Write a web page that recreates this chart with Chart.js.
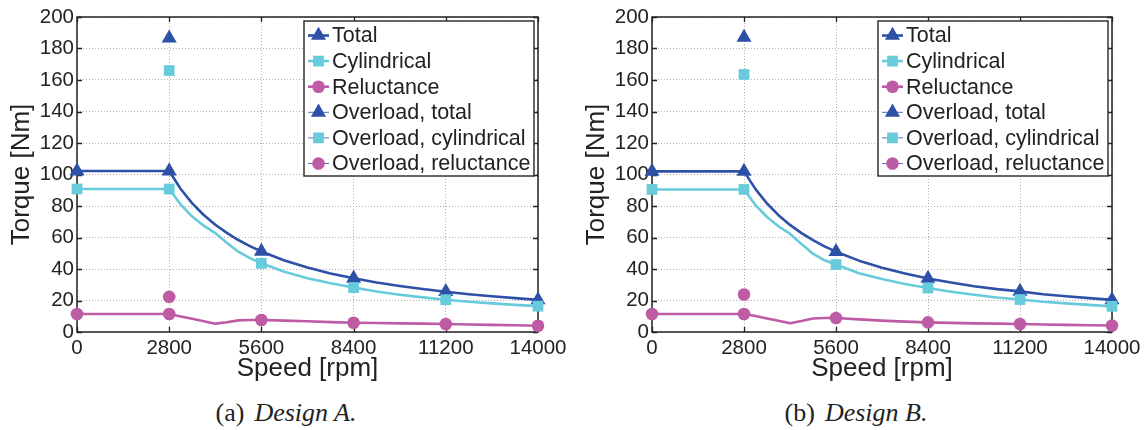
<!DOCTYPE html>
<html>
<head>
<meta charset="utf-8">
<script src="https://cdn.jsdelivr.net/npm/chart.js@4.4.1/dist/chart.umd.min.js"></script>
<style>
  html, body { margin: 0; padding: 0; background: #fff; }
  #wrap { position: relative; width: 1148px; height: 430px; overflow: hidden; }
  canvas { position: absolute; top: 0; }
  #chartA { left: 0; }
  #chartB { left: 575px; }
  .cap {
    position: absolute; top: 400px; line-height: 26px;
    font-family: 'Liberation Serif', 'Times New Roman', serif;
    font-size: 26px; color: #222; white-space: nowrap;
    transform: translateX(-50%);
  }
  .cap i { margin-left: 10px; }
</style>
</head>
<body>
<div id="wrap">
  <canvas id="chartA" width="574" height="385"></canvas>
  <canvas id="chartB" width="573" height="385"></canvas>
  <div class="cap" style="left:286px">(a)<i>Design A.</i></div>
  <div class="cap" style="left:856px">(b)<i>Design B.</i></div>
</div>
<script>
// Speed axis ticks and the operating points that carry markers [rpm]
const speedTicks = [0, 2800, 5600, 8400, 11200, 14000];
// Sample speeds of the torque-speed envelopes [rpm]
const curveSpeed = [0, 700, 1400, 2100, 2800, 3150, 3500, 3850, 4200, 4550, 4900, 5250,
                    5600, 6300, 7000, 7700, 8400, 9100, 9800, 10500, 11200, 11900, 12600, 13300, 14000];
const overloadSpeed = 2800;

// Design A torque [Nm]
const totalA = [102.2, 102.2, 102.2, 102.2, 102.2, 90.8, 81.7, 74.3, 68.1, 62.9, 58.4, 54.5,
                51.1, 45.4, 40.9, 37.2, 34.1, 31.4, 29.2, 27.3, 25.6, 24.0, 22.7, 21.5, 20.4];
const cylA   = [90.8, 90.8, 90.8, 90.8, 90.8, 80.9, 73.3, 67.5, 62.8, 56.7, 51.0, 46.9,
                43.6, 38.2, 34.1, 30.9, 28.2, 25.7, 23.7, 22.0, 20.5, 19.2, 18.2, 17.2, 16.4];
const relA   = [11.4, 11.4, 11.4, 11.4, 11.4, 9.9, 8.4, 6.8, 5.3, 6.2, 7.4, 7.6,
                7.6, 7.2, 6.8, 6.3, 5.9, 5.7, 5.5, 5.3, 5.1, 4.8, 4.5, 4.3, 4.0];
const overloadA = { total: 186.5, cyl: 166, rel: 22.3 };

// Design B torque [Nm]
const totalB = [102.0, 102.0, 102.0, 102.0, 102.0, 90.7, 81.6, 74.2, 68.0, 62.8, 58.3, 54.4,
                51.0, 45.3, 40.8, 37.1, 34.0, 31.4, 29.1, 27.2, 25.8, 24.0, 22.7, 21.5, 20.4];
const cylB   = [90.5, 90.5, 90.5, 90.5, 90.5, 80.6, 73.0, 67.1, 62.4, 55.8, 49.7, 45.5,
                42.8, 37.3, 33.6, 30.5, 27.9, 25.6, 23.6, 21.9, 20.6, 19.2, 18.2, 17.2, 16.3];
const relB   = [11.4, 11.4, 11.4, 11.4, 11.4, 10.1, 8.6, 7.1, 5.6, 7.0, 8.6, 8.9,
                8.9, 8.0, 7.2, 6.6, 6.1, 5.8, 5.5, 5.3, 5.1, 4.8, 4.5, 4.3, 4.1];
const overloadB = { total: 187, cyl: 163.5, rel: 23.8 };

const seriesLabels = ['Total', 'Cylindrical', 'Reluctance',
                      'Overload, total', 'Overload, cylindrical', 'Overload, reluctance'];

const BLUE = '#2c51a6', CYAN = '#67cbdc', MAGENTA = '#bd5ba5', THIN = '#5470c2', INK = '#222222';
const MARK = {
  triangle: { style: 'triangle', r: 8.7 },
  rect:     { style: 'rect',     r: 7.6 },
  circle:   { style: 'circle',   r: 6.3 }
};

Chart.defaults.font.family = "'Liberation Sans', Arial, Helvetica, sans-serif";
Chart.defaults.color = INK;

function markerRadius(r) {
  return ctx => (ctx.raw && speedTicks.includes(ctx.raw.x)) ? r : 0;
}

function curveDataset(label, speeds, values, color, mark, order) {
  return {
    label, order, clip: false, showLine: true,
    data: speeds.map((s, i) => ({ x: s, y: values[i] })),
    borderColor: color, borderWidth: 2.6, tension: 0, borderJoinStyle: 'round',
    pointStyle: mark.style, pointRadius: markerRadius(mark.r), pointHoverRadius: 0,
    pointBackgroundColor: color, pointBorderWidth: 0,
    legendLine: color, legendLineWidth: 2.6, legendMark: mark
  };
}

function overloadDataset(label, value, color, mark, order) {
  return {
    label, order, clip: false, showLine: false,
    data: [{ x: overloadSpeed, y: value }],
    borderColor: color, pointStyle: mark.style, pointRadius: mark.r, pointHoverRadius: 0,
    pointBackgroundColor: color, pointBorderWidth: 0,
    legendLine: THIN, legendLineWidth: 1, legendMark: mark
  };
}

// Box with inward tick marks on all four sides
const frameBox = {
  id: 'frameBox',
  beforeDatasetsDraw(chart) {
    const { ctx, chartArea: a, scales } = chart;
    ctx.save();
    ctx.strokeStyle = INK;
    ctx.lineWidth = 1.3;
    ctx.beginPath();
    const tl = 5;
    scales.x.ticks.forEach(t => {
      const px = Math.round(scales.x.getPixelForValue(t.value)) + 0.5;
      ctx.moveTo(px, a.bottom); ctx.lineTo(px, a.bottom - tl);
      ctx.moveTo(px, a.top); ctx.lineTo(px, a.top + tl);
    });
    scales.y.ticks.forEach(t => {
      const py = Math.round(scales.y.getPixelForValue(t.value)) + 0.5;
      ctx.moveTo(a.left, py); ctx.lineTo(a.left + tl, py);
      ctx.moveTo(a.right, py); ctx.lineTo(a.right - tl, py);
    });
    ctx.stroke();
    ctx.lineWidth = 1.5;
    ctx.strokeRect(a.left, a.top, a.right - a.left, a.bottom - a.top);
    ctx.restore();
  }
};

// Boxed legend in the upper-right corner of the plot area
const boxLegend = {
  id: 'boxLegend',
  afterDatasetsDraw(chart) {
    const { ctx, chartArea: a } = chart;
    const bx = a.right - 234, by = a.top + 4, bw = 230, bh = 155;
    ctx.save();
    ctx.fillStyle = '#fff';
    ctx.fillRect(bx, by, bw, bh);
    ctx.strokeStyle = '#333';
    ctx.lineWidth = 1.5;
    ctx.strokeRect(bx, by, bw, bh);
    chart.data.datasets.forEach((ds, i) => {
      const y = by + 14.5 + i * 25.6;
      ctx.strokeStyle = ds.legendLine;
      ctx.lineWidth = ds.legendLineWidth;
      ctx.beginPath();
      ctx.moveTo(bx + 4, y); ctx.lineTo(bx + 25, y);
      ctx.stroke();
      ctx.fillStyle = ds.pointBackgroundColor;
      Chart.helpers.drawPoint(ctx, { pointStyle: ds.legendMark.style, radius: ds.legendMark.r,
                                     rotation: 0, borderWidth: 0 }, bx + 14.5, y);
      ctx.fillStyle = INK;
      ctx.font = "21.5px 'Liberation Sans', Arial, sans-serif";
      ctx.textBaseline = 'middle';
      ctx.textAlign = 'left';
      ctx.fillText(ds.label, bx + 28, y + 1);
    });
    ctx.restore();
  }
};

function buildChart(canvasId, total, cyl, rel, overload) {
  const grid = { color: '#b0b0b0', lineWidth: 1, drawTicks: false };
  const border = { display: false, dash: [1, 2] };
  return new Chart(document.getElementById(canvasId), {
    type: 'scatter',
    data: {
      datasets: [
        curveDataset(seriesLabels[0], curveSpeed, total, BLUE, MARK.triangle, 6),
        curveDataset(seriesLabels[1], curveSpeed, cyl, CYAN, MARK.rect, 5),
        curveDataset(seriesLabels[2], curveSpeed, rel, MAGENTA, MARK.circle, 4),
        overloadDataset(seriesLabels[3], overload.total, BLUE, MARK.triangle, 3),
        overloadDataset(seriesLabels[4], overload.cyl, CYAN, MARK.rect, 2),
        overloadDataset(seriesLabels[5], overload.rel, MAGENTA, MARK.circle, 1)
      ]
    },
    options: {
      responsive: false,
      animation: false,
      devicePixelRatio: 1,
      layout: { padding: { top: 17, right: 36, left: 0, bottom: 0 } },
      plugins: { legend: { display: false }, tooltip: { enabled: false } },
      events: [],
      scales: {
        x: {
          type: 'linear', min: 0, max: 14000,
          afterBuildTicks: s => { s.ticks = speedTicks.map(v => ({ value: v })); },
          afterFit: s => { s.height = 53; },
          grid, border,
          ticks: { font: { size: 20.5 }, color: INK, padding: 4, maxRotation: 0, autoSkip: false,
                   callback: v => String(v) },
          title: { display: true, text: 'Speed [rpm]', font: { size: 26 }, color: INK,
                   padding: { top: 0, bottom: 1 } }
        },
        y: {
          min: 0, max: 200,
          afterFit: s => { s.width = 77; },
          grid, border,
          ticks: { stepSize: 20, font: { size: 20.5 }, color: INK, padding: 3 },
          title: { display: true, text: 'Torque [Nm]', font: { size: 26 }, color: INK,
                   padding: { top: 6, bottom: 0 } }
        }
      }
    },
    plugins: [frameBox, boxLegend]
  });
}

buildChart('chartA', totalA, cylA, relA, overloadA);
buildChart('chartB', totalB, cylB, relB, overloadB);
</script>
</body>
</html>
